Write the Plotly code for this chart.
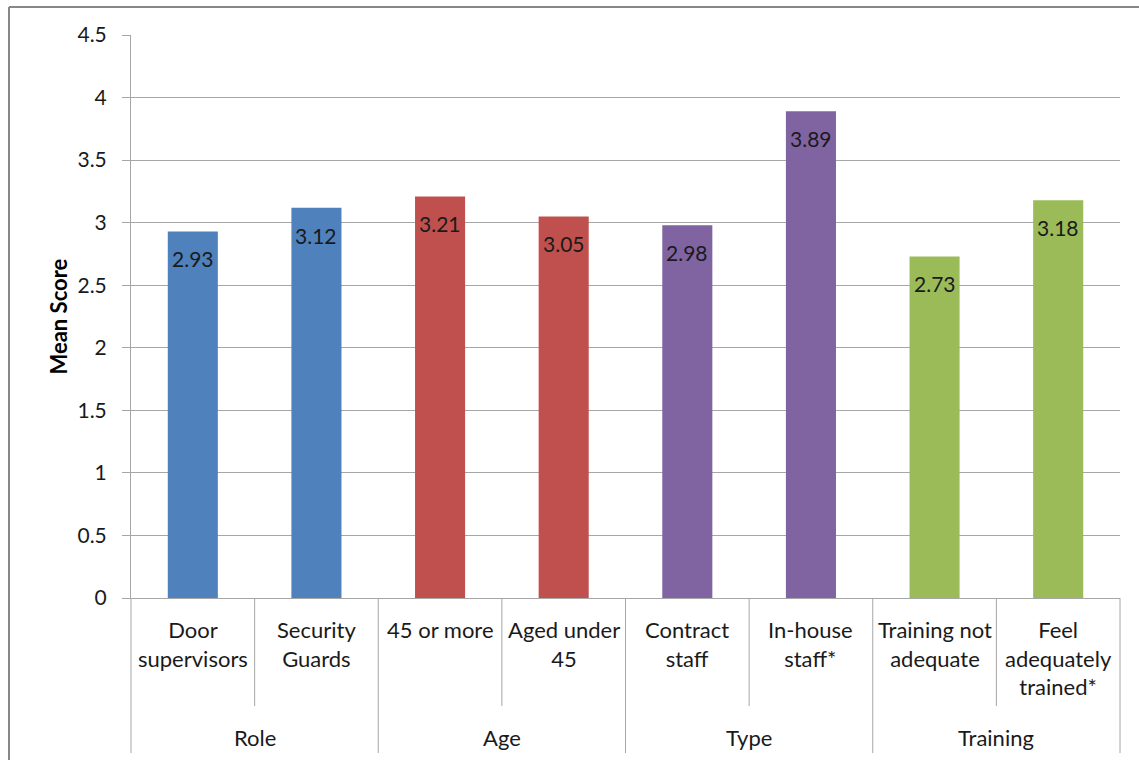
import plotly.graph_objects as go

# ---- data ----
categories = ["Door supervisors", "Security Guards", "45 or more", "Aged under 45",
              "Contract staff", "In-house staff*", "Training not adequate", "Feel adequately trained*"]
category_labels = ["Door<br>supervisors", "Security<br>Guards", "45 or more", "Aged under<br>45",
                   "Contract<br>staff", "In-house<br>staff*", "Training not<br>adequate",
                   "Feel<br>adequately<br>trained*"]
groups = ["Role", "Age", "Type", "Training"]
group_sizes = [2, 2, 2, 2]
values = [2.93, 3.12, 3.21, 3.05, 2.98, 3.89, 2.73, 3.18]
group_colors = ["#4F81BD", "#C0504D", "#8064A2", "#9BBB59"]
y_tickvals = [0, 0.5, 1, 1.5, 2, 2.5, 3, 3.5, 4, 4.5]
y_ticktext = ["0", "0.5", "1", "1.5", "2", "2.5", "3", "3.5", "4", "4.5"]
y_title = "Mean Score"

# ---- layout constants ----
W, H = 1139, 760
ML, MR, MT, MB = 131, 19, 35, 162
PW, PH = W - ML - MR, H - MT - MB
FONT = "Lato"
GRID = "#A6A6A6"
TXT = "#1a1a1a"

bar_colors = []
for g, n in enumerate(group_sizes):
    bar_colors += [group_colors[g]] * n

fig = go.Figure()
fig.add_trace(go.Bar(x=categories, y=values, marker=dict(color=bar_colors, line=dict(width=0)),
                     hoverinfo="x+y"))

annotations = []
# data labels
for c, v in zip(categories, values):
    annotations.append(dict(x=c, y=v, xref="x", yref="y", text=f"{v:.2f}", showarrow=False,
                            yanchor="top", yshift=-13, font=dict(family=FONT, size=21, color=TXT)))
# category labels
for c, lab in zip(categories, category_labels):
    annotations.append(dict(x=c, y=0, xref="x", yref="paper", text=lab, showarrow=False,
                            yanchor="top", yshift=-16, font=dict(family=FONT, size=22, color=TXT)))
# group labels
start = 0
for g, n in zip(groups, group_sizes):
    annotations.append(dict(x=start + (n - 1) / 2, y=0, xref="x", yref="paper", text=g,
                            showarrow=False, yanchor="middle", yshift=-139,
                            font=dict(family=FONT, size=22, color=TXT)))
    start += n
# y title
annotations.append(dict(x=(58 - ML) / PW, y=0.5, xref="paper", yref="paper", text=f"<b>{y_title}</b>",
                        showarrow=False, textangle=-90, xanchor="center", yanchor="middle",
                        font=dict(family=FONT, size=22, color="#000000")))

# divider lines below axis
n_cat = len(categories)
shapes = []
full_bottom = -(753 - (MT + PH)) / PH
part_bottom = -(706 - (MT + PH)) / PH
boundaries = [0]
s = 0
for n in group_sizes:
    s += n
    boundaries.append(s)
for k in range(n_cat + 1):
    xp = k / n_cat
    yb = full_bottom if k in boundaries else part_bottom
    shapes.append(dict(type="line", xref="paper", yref="paper", x0=xp, x1=xp, y0=0, y1=yb,
                       line=dict(color=GRID, width=1)))
# outer chart frame (top & left visible)
shapes.append(dict(type="line", xref="paper", yref="paper", x0=(9 - ML) / PW, x1=(W + 5 - ML) / PW,
                   y0=(MT + PH - 7) / PH, y1=(MT + PH - 7) / PH, line=dict(color="#878787", width=2)))
shapes.append(dict(type="line", xref="paper", yref="paper", x0=(9 - ML) / PW, x1=(9 - ML) / PW,
                   y0=(MT + PH - 7) / PH, y1=-(H + 5 - MT - PH) / PH, line=dict(color="#878787", width=2)))

fig.update_layout(
    width=W, height=H,
    margin=dict(l=ML, r=MR, t=MT, b=MB),
    paper_bgcolor="white", plot_bgcolor="white",
    showlegend=False,
    bargap=0.595,
    font=dict(family=FONT, size=21, color=TXT),
    annotations=annotations,
    shapes=shapes,
    xaxis=dict(type="category", showticklabels=False, ticks="", showgrid=False, zeroline=False,
               showline=True, linecolor=GRID, linewidth=1, range=[-0.5, n_cat - 0.5]),
    yaxis=dict(range=[0, 4.5], tickvals=y_tickvals, ticktext=y_ticktext, showgrid=True,
               gridcolor=GRID, gridwidth=1, showline=True, linecolor=GRID, linewidth=1,
               ticks="outside", ticklen=8, tickcolor=GRID, zeroline=False, ticklabelstandoff=11,
               tickfont=dict(family=FONT, size=21, color=TXT)),
)

fig.write_html("out.html")
